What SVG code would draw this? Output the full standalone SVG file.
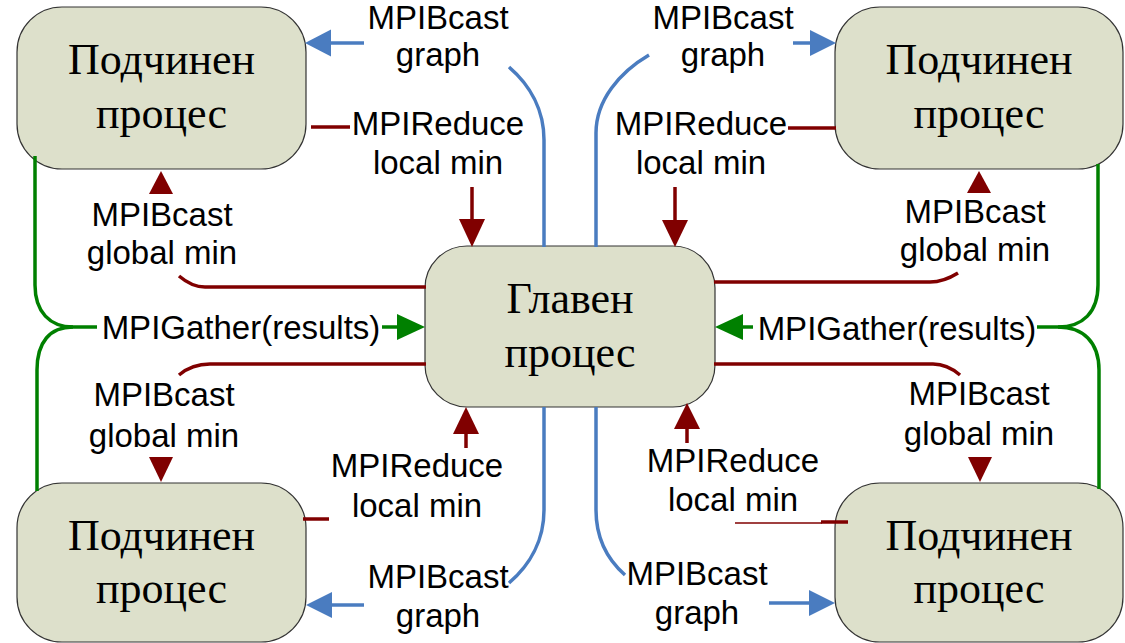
<svg xmlns="http://www.w3.org/2000/svg" width="1125" height="643" viewBox="0 0 1125 643">
<style>
.box{fill:#dde0cb;stroke:#333;stroke-width:1.2}
.nt{font-family:"Liberation Serif","Times New Roman",serif;font-size:44px;fill:#000;text-anchor:middle}
.lb{font-family:"Liberation Sans",Arial,sans-serif;font-size:33px;fill:#000;text-anchor:middle}
.b{fill:none;stroke:#4a7cc0;stroke-width:3.5}
.r{fill:none;stroke:#800000;stroke-width:3.5}
.g{fill:none;stroke:#008000;stroke-width:3.5}
.bh{fill:#4a7cc0}
.rh{fill:#800000}
.gh{fill:#008000}
</style>
<rect width="1125" height="643" fill="#fff"/>
<g id="n_tl"><rect class="box" x="17" y="7" width="289" height="162" rx="45"/><text class="nt" x="161.5" y="74">Подчинен</text><text class="nt" x="161.5" y="128">процес</text></g>
<g id="n_tr"><rect class="box" x="835" y="7" width="288" height="162" rx="45"/><text class="nt" x="979" y="74">Подчинен</text><text class="nt" x="979" y="128">процес</text></g>
<g id="n_bl"><rect class="box" x="17" y="483" width="289" height="159" rx="45"/><text class="nt" x="161.5" y="550">Подчинен</text><text class="nt" x="161.5" y="603">процес</text></g>
<g id="n_br"><rect class="box" x="835" y="483" width="288" height="159" rx="45"/><text class="nt" x="979" y="550">Подчинен</text><text class="nt" x="979" y="603">процес</text></g>
<g id="n_c"><rect class="box" x="425" y="246" width="290" height="161" rx="42"/><text class="nt" x="570" y="313">Главен</text><text class="nt" x="570" y="367">процес</text></g>
<g id="connectors">
<!-- blue -->
<path class="b" d="M364 43 H330"/><polygon class="bh" points="305,43 331,29.5 331,56.5"/>
<path class="b" d="M509 67 C530 85 544 110 544 140 V247"/>
<path class="b" d="M649 55 C620 72 596 100 596 133 V247"/>
<path class="b" d="M793 43 H811"/><polygon class="bh" points="836,43 810,30 810,56"/>
<path class="b" d="M544 407 V510 C544 540 530 565 509 583"/>
<path class="b" d="M364 605 H331"/><polygon class="bh" points="306,605 332,592 332,618"/>
<path class="b" d="M596 407 V510 C596 540 608 560 625 575"/>
<path class="b" d="M769 603 H810"/><polygon class="bh" points="835,603 809,590 809,616"/>
<!-- red -->
<path class="r" d="M311 127 H350"/>
<path class="r" d="M472 187 V221"/><polygon class="rh" points="472,247 459,219 485,219"/>
<path class="r" d="M426 287 H205 C195 287 186 282 179 276"/>
<polygon class="rh" points="161,171 149,194 173,194"/>
<path class="r" d="M788 128 H836"/>
<path class="r" d="M675 187 V222"/><polygon class="rh" points="675,247 662,220 688,220"/>
<path class="r" d="M714 282 H930 C942 282 950 278 958 273"/>
<polygon class="rh" points="979,171 967,193 991,193"/>
<path class="r" d="M426 364 H210 C196 364 186 369 179 375"/>
<polygon class="rh" points="161,482 149,457 173,457"/>
<path class="r" d="M303 519 H329"/>
<path class="r" d="M466 448 V432"/><polygon class="rh" points="466,407 453,434 479,434"/>
<path class="r" d="M714 364 H933 C945 364 953 369 960 375"/>
<polygon class="rh" points="980,482 968,457 992,457"/>
<path class="r" d="M735 523 H822" style="stroke-width:1.5"/>
<path class="r" d="M821 522 H848"/>
<path class="r" d="M687 443 V427"/><polygon class="rh" points="687,403 674,429 700,429"/>
<!-- green -->
<path class="g" d="M35 156 V285 C35 312 50 327 73 327 H97"/>
<path class="g" d="M73 327 C50 327 37 342 37 370 V491"/>
<path class="g" d="M382 327 H399"/><polygon class="gh" points="425,327 397,314 397,340"/>
<path class="g" d="M1098 164 V285 C1098 312 1083 327 1058 327 H1037"/>
<path class="g" d="M1058 327 C1083 327 1099 342 1099 370 V489"/>
<path class="g" d="M753 327 H741"/><polygon class="gh" points="715,327 743,314 743,340"/>
</g>
<g id="labels">
<text class="lb" x="438" y="29">MPIBcast</text><text class="lb" x="438" y="66">graph</text>
<text class="lb" x="438" y="135">MPIReduce</text><text class="lb" x="438" y="174">local min</text>
<text class="lb" x="162" y="226">MPIBcast</text><text class="lb" x="162" y="264">global min</text>
<text class="lb" x="723" y="29">MPIBcast</text><text class="lb" x="723" y="66">graph</text>
<text class="lb" x="701" y="135">MPIReduce</text><text class="lb" x="701" y="174">local min</text>
<text class="lb" x="975" y="223">MPIBcast</text><text class="lb" x="975" y="261">global min</text>
<text class="lb" x="241" y="339">MPIGather(results)</text>
<text class="lb" x="897" y="340">MPIGather(results)</text>
<text class="lb" x="164" y="406">MPIBcast</text><text class="lb" x="164" y="447">global min</text>
<text class="lb" x="417" y="477">MPIReduce</text><text class="lb" x="417" y="517">local min</text>
<text class="lb" x="438" y="588">MPIBcast</text><text class="lb" x="438" y="627">graph</text>
<text class="lb" x="733" y="472">MPIReduce</text><text class="lb" x="733" y="511">local min</text>
<text class="lb" x="979" y="405">MPIBcast</text><text class="lb" x="979" y="445">global min</text>
<text class="lb" x="697" y="585">MPIBcast</text><text class="lb" x="697" y="624">graph</text>
</g>
</svg>
